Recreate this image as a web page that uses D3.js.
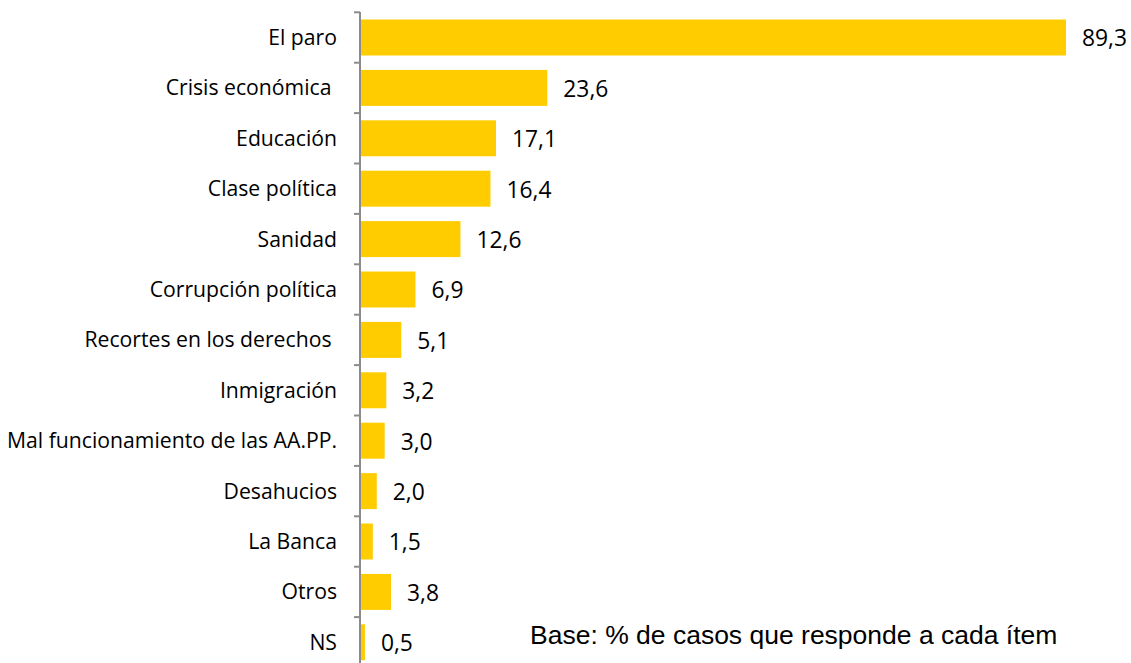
<!DOCTYPE html>
<html>
<head>
<meta charset="utf-8">
<script src="https://cdn.jsdelivr.net/npm/d3@7"></script>
<style>
  body { margin: 0; background: #fff; }
  svg { display: block; }
  text { white-space: pre; }
</style>
</head>
<body>
<div id="chart"></div>
<script>
var categories = ["El paro", "Crisis económica ", "Educación", "Clase política", "Sanidad",
    "Corrupción política", "Recortes en los derechos ", "Inmigración",
    "Mal funcionamiento de las AA.PP.", "Desahucios", "La Banca", "Otros", "NS"];
var values = [89.3, 23.6, 17.1, 16.4, 12.6, 6.9, 5.1, 3.2, 3.0, 2.0, 1.5, 3.8, 0.5];
var note = "Base: % de casos que responde a cada ítem";

var w = 1131, h = 663;
var svg = d3.select("#chart").append("svg").attr("width", w).attr("height", h);

var x0 = 361;
var x = d3.scaleLinear().domain([0, 100]).range([x0, x0 + 789.5]);
var y = d3.scaleBand().domain(categories).range([12.3, 12.3 + 13 * 50.4])
    .paddingInner(0.286).paddingOuter(0.143);

var fmt = function (d) { return d3.format(".1f")(d).replace(".", ","); };

// bars
svg.selectAll(".bar").data(values).enter().append("rect").attr("class", "bar")
    .attr("x", x(0))
    .attr("y", function (d, i) { return y(categories[i]); })
    .attr("width", function (d) { return x(d) - x(0); })
    .attr("height", y.bandwidth())
    .style("fill", "#FFCC00");

// axis line and ticks between categories
svg.append("line").attr("x1", 360).attr("x2", 360).attr("y1", 12).attr("y2", h)
    .style("stroke", "#8c8c8c").style("stroke-width", 2);
var ticks = d3.range(14).map(function (i) { return 12.3 + i * y.step(); });
svg.selectAll(".tick").data(ticks).enter().append("line").attr("class", "tick")
    .attr("x1", 354).attr("x2", 360)
    .attr("y1", function (d) { return d; }).attr("y2", function (d) { return d; })
    .style("stroke", "#8c8c8c").style("stroke-width", 2);

// category labels
svg.selectAll(".cat").data(categories).enter().append("text").attr("class", "cat")
    .attr("x", 337)
    .attr("y", function (d) { return y(d) + y.bandwidth() / 2; })
    .attr("dy", "0.35em")
    .attr("text-anchor", "end")
    .style("font-family", "'Open Sans', sans-serif")
    .style("font-size", "21.2px")
    .style("fill", "#000")
    .text(function (d) { return d; });

// value labels
svg.selectAll(".val").data(values).enter().append("text").attr("class", "val")
    .attr("x", function (d) { return x(d) + 16; })
    .attr("y", function (d, i) { return y(categories[i]) + y.bandwidth() / 2 + 1; })
    .attr("dy", "0.35em")
    .style("font-family", "'Open Sans', sans-serif")
    .style("font-size", "22.8px")
    .style("fill", "#000")
    .text(fmt);

svg.append("text").attr("x", 530).attr("y", 644)
    .style("font-family", "'Liberation Sans', Arial, sans-serif")
    .style("font-size", "26.5px")
    .style("fill", "#000")
    .text(note);
</script>
</body>
</html>
